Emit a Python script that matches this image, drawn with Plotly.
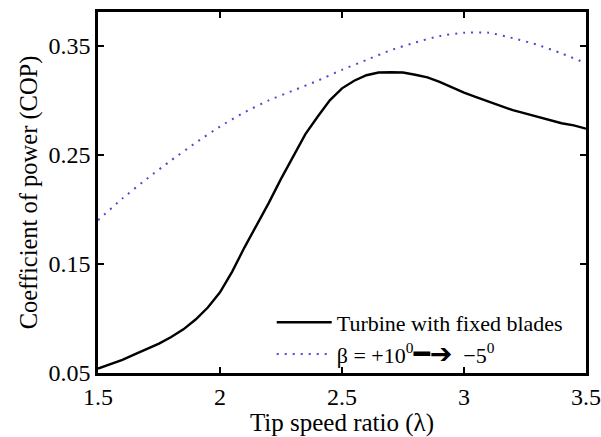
import plotly.graph_objects as go

# Tip speed ratio samples for the fixed-blade curve
tsr_fixed = [1.5, 1.55, 1.6, 1.65, 1.7, 1.75, 1.8, 1.85, 1.9, 1.95, 2.0, 2.05,
             2.1, 2.15, 2.2, 2.25, 2.3, 2.35, 2.4, 2.45, 2.5, 2.55, 2.6, 2.65,
             2.7, 2.75, 2.8, 2.85, 2.9, 2.95, 3.0, 3.05, 3.1, 3.15, 3.2, 3.25,
             3.3, 3.35, 3.4, 3.45, 3.5]

# Power coefficient, fixed-blade turbine
cop_fixed = [0.054, 0.058, 0.062, 0.067, 0.072, 0.077, 0.083, 0.090, 0.099,
             0.110, 0.124, 0.143, 0.165, 0.185, 0.206, 0.228, 0.249, 0.269,
             0.285, 0.300, 0.311, 0.318, 0.323, 0.3255, 0.3257, 0.3255,
             0.3235, 0.321, 0.317, 0.312, 0.307, 0.303, 0.299, 0.295, 0.291,
             0.288, 0.285, 0.282, 0.279, 0.277, 0.274]

# Tip speed ratio samples for the pitch-controlled curve
tsr_pitch = [1.5, 1.6, 1.7, 1.8, 1.9, 2.0, 2.1, 2.2, 2.3, 2.4, 2.5, 2.6,
             2.7, 2.8, 2.9, 3.0, 3.1, 3.2, 3.3, 3.4, 3.5]

# Power coefficient, pitch varied from +10 to -5 degrees
cop_pitch = [0.190, 0.210, 0.228, 0.245, 0.261, 0.276, 0.289, 0.300, 0.309,
             0.318, 0.328, 0.337, 0.346, 0.353, 0.359, 0.362, 0.362, 0.357,
             0.351, 0.343, 0.334]

x_ticks = [1.5, 2, 2.5, 3, 3.5]
x_tick_text = ["1.5", "2", "2.5", "3", "3.5"]
y_ticks = [0.05, 0.15, 0.25, 0.35]
y_tick_text = ["0.05", "0.15", "0.25", "0.35"]

font_family = "Liberation Serif"

fig = go.Figure()
fig.add_trace(go.Scatter(
    x=tsr_fixed, y=cop_fixed, mode="lines", name="Turbine with fixed blades",
    line=dict(color="black", width=2.4),
))
fig.add_trace(go.Scatter(
    x=tsr_pitch, y=cop_pitch, mode="lines",
    name=("β = +10<sup>0</sup>"
          "<span style=\"font-family:DejaVu Sans;font-size:27px\"><b>━➔</b></span>"
          "  −5<sup>0</sup>"),
    line=dict(color="#4a4ad6", width=2, dash="2px,6px", shape="spline", smoothing=0.6),
))

axis_common = dict(
    showline=True, linecolor="black", linewidth=2.5, mirror="allticks",
    ticks="inside", ticklen=6, tickwidth=2, tickcolor="black",
    showgrid=False, zeroline=False, automargin=False,
    tickfont=dict(family=font_family, size=24, color="black"),
)

fig.update_layout(
    width=601, height=437,
    margin=dict(l=98, r=15, t=12, b=64),
    paper_bgcolor="white", plot_bgcolor="white",
    font=dict(family=font_family, color="black"),
    showlegend=True,
    legend=dict(
        x=0.356, y=0.198, xanchor="left", yanchor="top",
        bgcolor="rgba(0,0,0,0)", borderwidth=0,
        font=dict(family=font_family, size=22, color="black"),
        itemwidth=55, tracegroupgap=0,
    ),
    xaxis=dict(
        range=[1.5, 3.5], tickvals=x_ticks, ticktext=x_tick_text,
        title=dict(text="Tip speed ratio (λ)", font=dict(family=font_family, size=25),
                   standoff=0),
        **axis_common,
    ),
    yaxis=dict(
        range=[0.05, 0.381], tickvals=y_ticks, ticktext=y_tick_text,
        title=dict(text="Coefficient of power (COP)", font=dict(family=font_family, size=24.5),
                   standoff=4),
        **axis_common,
    ),
)

fig.write_html("out.html")
